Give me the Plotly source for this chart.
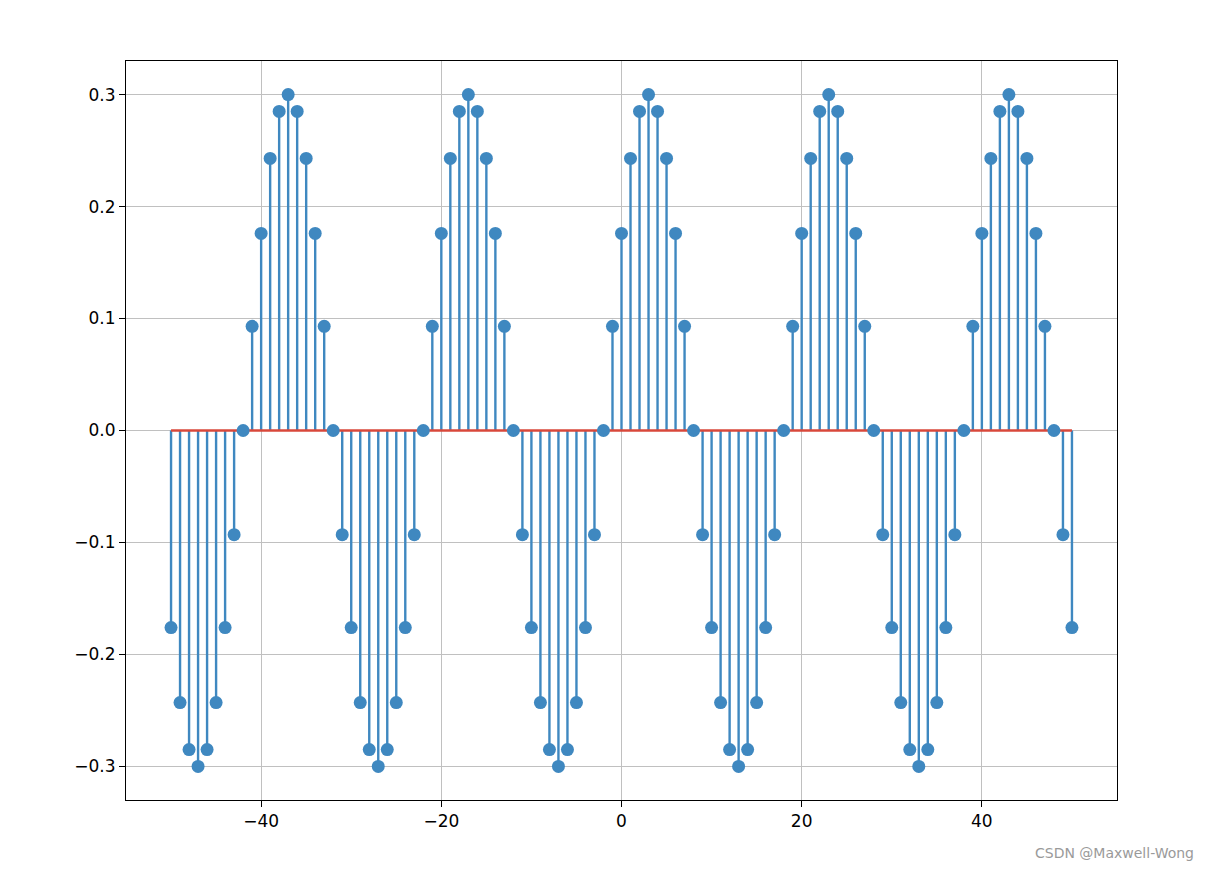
import plotly.graph_objects as go

# sample index and stem values
n = list(range(-50, 51))
period = [-0.176, -0.243, -0.285, -0.300, -0.285, -0.243, -0.176, -0.093,
          0.000, 0.093, 0.176, 0.243, 0.285, 0.300, 0.285, 0.243, 0.176, 0.093,
          0.000, -0.093]
y = (period + period + period + period + period + [-0.176])[:101]

x_ticks = [-40, -20, 0, 20, 40]
x_text = ["\u221240", "\u221220", "0", "20", "40"]
y_ticks = [-0.3, -0.2, -0.1, 0.0, 0.1, 0.2, 0.3]
y_text = ["\u22120.3", "\u22120.2", "\u22120.1", "0.0", "0.1", "0.2", "0.3"]

blue = "#3f88c0"

sx, sy = [], []
for xi, yi in zip(n, y):
    sx += [xi, xi, None]
    sy += [0, yi, None]

fig = go.Figure()
fig.add_trace(go.Scatter(x=sx, y=sy, mode="lines",
                         line=dict(color=blue, width=2.4), hoverinfo="skip"))
fig.add_trace(go.Scatter(x=[n[0], n[-1]], y=[0, 0], mode="lines",
                         line=dict(color="#d9483b", width=2.4)))
fig.add_trace(go.Scatter(x=n, y=y, mode="markers",
                         marker=dict(color=blue, size=13)))

axis = dict(showline=True, linecolor="black", linewidth=1, mirror=True,
            showgrid=True, gridcolor="#c0c0c0", gridwidth=1, zeroline=False,
            ticks="outside", ticklen=6, tickcolor="black")
fig.update_xaxes(range=[-55, 55], tickvals=x_ticks, ticktext=x_text, **axis)
fig.update_yaxes(range=[-0.33, 0.33], tickvals=y_ticks, ticktext=y_text, **axis)

fig.update_layout(
    width=1210, height=876,
    margin=dict(l=118, r=101, t=53, b=84),
    plot_bgcolor="white", paper_bgcolor="white",
    showlegend=False,
    font=dict(family="DejaVu Sans", size=17, color="black"),
    annotations=[dict(text="CSDN @Maxwell-Wong", xref="paper", yref="paper",
                      x=1.08, y=-0.085, xanchor="right", showarrow=False,
                      font=dict(size=14, color="#9a9a9a"))],
)

fig.write_html("out.html")
